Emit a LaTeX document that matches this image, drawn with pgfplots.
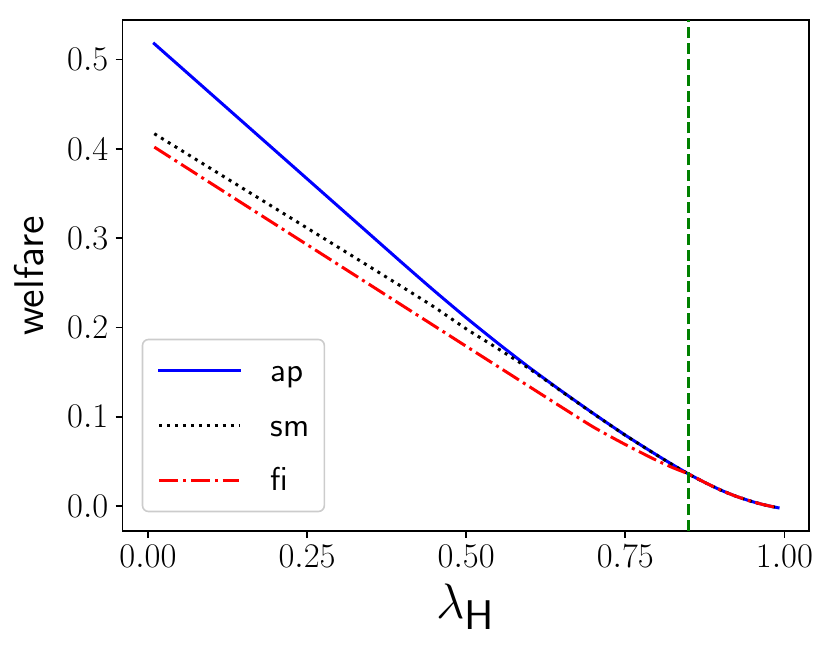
\documentclass[border=0pt]{standalone}
\usepackage{fontspec}
\setmainfont{lmroman10-regular.otf}
\setsansfont{lmsans10-regular.otf}
\usepackage{pgfplots}
\pgfplotsset{compat=1.18}
\usepackage{pgfplotstable}

\pgfplotstableread{
x y
0.01 0.5177
0.10 0.4610
0.20 0.3980
0.30 0.3350
0.40 0.2720
0.45 0.2410
0.50 0.2110
0.55 0.1823
0.60 0.1548
0.65 0.1288
0.70 0.1037
0.75 0.0795
0.80 0.0570
0.825 0.0462
0.85 0.0358
0.875 0.0265
0.90 0.0180
0.925 0.0108
0.95 0.0050
0.97 0.0012
0.99 -0.0018
}\apdata

\pgfplotstableread{
x y
0.01 0.4170
0.10 0.3774
0.20 0.3334
0.30 0.2894
0.40 0.2452
0.45 0.2228
0.50 0.1985
0.55 0.1763
0.60 0.1535
0.65 0.1284
0.70 0.1035
0.75 0.0794
0.80 0.0569
0.825 0.0461
0.85 0.0357
0.875 0.0265
0.90 0.0180
0.925 0.0108
0.95 0.0050
0.97 0.0012
0.99 -0.0018
}\smdata

\pgfplotstableread{
x y
0.01 0.4020
0.10 0.3610
0.20 0.3155
0.30 0.2700
0.40 0.2245
0.50 0.1790
0.60 0.1335
0.65 0.1108
0.70 0.0885
0.75 0.0690
0.80 0.0510
0.825 0.0430
0.85 0.0358
0.875 0.0265
0.90 0.0180
0.925 0.0108
0.95 0.0050
0.97 0.0012
0.99 -0.0018
}\fidata

\definecolor{mplgreen}{rgb}{0,0.5,0}

\begin{document}
\begin{tikzpicture}
\begin{axis}[
  at={(0pt,0pt)}, anchor=south west,
  scale only axis, width=343.2pt, height=255.5pt,
  xmin=-0.0397, xmax=1.0388, ymin=-0.0278, ymax=0.5443,
  axis line style={line width=0.8pt},
  tick align=outside, major tick length=3.5pt,
  tick style={line width=0.8pt, black},
  xtick={0,0.25,0.5,0.75,1}, ytick={0,0.1,0.2,0.3,0.4,0.5},
  xtick pos=bottom, ytick pos=left,
  scaled ticks=false,
  tick label style={font=\fontsize{17.28}{20}\selectfont},
  xticklabel style={inner sep=0pt, yshift=-3.5pt, /pgf/number format/.cd, fixed, fixed zerofill, precision=2},
  yticklabel style={inner sep=0pt, xshift=-3.5pt, /pgf/number format/.cd, fixed, fixed zerofill, precision=1},
  xlabel={$\lambda_{\mathsf{H}}$},
  ylabel={welfare},
  xlabel style={font=\fontsize{24.88}{30}\selectfont, at={(axis description cs:0.5,-0.1703)}, anchor=base, inner sep=0pt},
  ylabel style={font=\fontsize{20.74}{25}\selectfont\sffamily, at={(axis description cs:-0.1161,0.5)}, anchor=base, inner sep=0pt},
  legend style={at={(axis description cs:0.0277,0.0366)}, anchor=south west,
    draw=black!20, line width=0.8pt, rounded corners=3pt,
    fill=white, fill opacity=0.8, text opacity=1, draw opacity=1,
    inner xsep=7.5pt, inner ysep=6.8pt, row sep=9.5pt, column sep=15pt,
    font=\fontsize{16.5}{20}\selectfont\sffamily,
    nodes={inner sep=0pt, text height=14.3pt, text depth=3.5pt}},
  legend cell align=left,
  legend image code/.code={\draw[#1] (0pt,0pt) -- (40pt,0pt);},
]
\addplot[blue, line width=1.5pt, line cap=rect, line join=round, smooth, tension=0.4] table[x=x,y=y] {\apdata};
\addlegendentry{ap}
\addplot[black, line width=1.5pt, dash pattern=on 1.5pt off 2.475pt, smooth, tension=0.4] table[x=x,y=y] {\smdata};
\addlegendentry{sm}
\addplot[red, line width=1.5pt, dash pattern=on 9.6pt off 2.4pt on 1.5pt off 2.4pt, smooth, tension=0.4] table[x=x,y=y] {\fidata};
\addlegendentry{fi}
\addplot[mplgreen, line width=1.5pt, dash pattern=on 5.55pt off 2.4pt, forget plot] coordinates {(0.85,-0.0278) (0.85,0.5443)};
\end{axis}
\pgfresetboundingbox
\path (-61.35pt,-60.5pt) rectangle (353.65pt,265.5pt);
\end{tikzpicture}
\end{document}
